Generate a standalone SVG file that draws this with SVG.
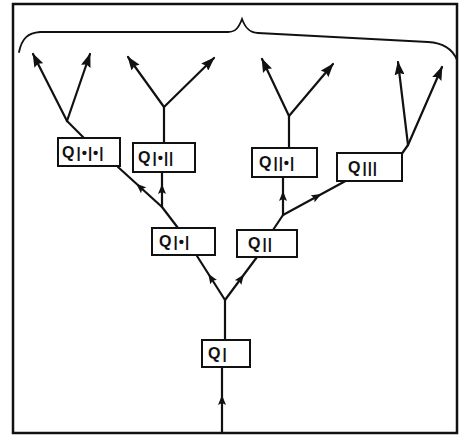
<svg xmlns="http://www.w3.org/2000/svg" width="459" height="439" viewBox="0 0 459 439">
<defs>
<marker id="endArrow" viewBox="0 0 14 10" refX="13" refY="5" markerWidth="14" markerHeight="10" markerUnits="userSpaceOnUse" orient="auto">
<path d="M0,0 L14,5 L0,10 L2,5 Z" fill="#111"/>
</marker>
<marker id="midArrow" viewBox="0 0 10 8" refX="5" refY="4" markerWidth="10" markerHeight="8" markerUnits="userSpaceOnUse" orient="auto">
<path d="M0,0 L10,4 L0,8 L2,4 Z" fill="#111"/>
</marker>
<style>
.ln{fill:none;stroke:#111;stroke-width:2.2;stroke-linecap:round}
.end{marker-end:url(#endArrow)}
.mid{marker-mid:url(#midArrow)}
.box{fill:#fff;stroke:#111;stroke-width:2}
.lbl{font-family:"Liberation Sans",Arial,sans-serif;fill:#111;font-size:15px;font-weight:bold;letter-spacing:1px}
.q{font-size:16px;letter-spacing:2px}
</style>
</defs>
<rect x="0" y="0" width="459" height="439" fill="#fff"/>
<rect x="13" y="4" width="444" height="429" fill="none" stroke="#111" stroke-width="2.5"/>
<path fill="none" stroke="#111" stroke-width="1.8" stroke-linecap="round" d="M19,52 C22,38 28,33 40,32 L228,32 C236,32 239,27 242,19 C245,27 249,33 258,33 L428,42 C445,43 453,50 457,60"/>
<g id="connectors">
<path class="ln end" d="M67,121 L33,54"/>
<path class="ln end" d="M67,121 L90,54"/>
<path class="ln" d="M84,138 L67,121"/>
<path class="ln end" d="M164,107 L128,57"/>
<path class="ln end" d="M164,107 L214,58"/>
<path class="ln" d="M164,143 L164,107"/>
<path class="ln end" d="M289,116 L262,59"/>
<path class="ln end" d="M289,116 L333,64"/>
<path class="ln" d="M289,148 L289,116"/>
<path class="ln end" d="M408,145 L398,62"/>
<path class="ln end" d="M408,145 L442,67"/>
<path class="ln" d="M401,155 L408,145"/>
<path class="ln mid" d="M162,207 L140,187 L118,167"/>
<path class="ln mid" d="M162,207 L162,189 L162,172"/>
<path class="ln" d="M178,228 L162,207"/>
<path class="ln mid" d="M283,215 L283,196 L283,177"/>
<path class="ln mid" d="M283,215 L317,196.5 L351,178"/>
<path class="ln" d="M273,230 L283,215"/>
<path class="ln mid" d="M225,300 L211,278 L197,256"/>
<path class="ln mid" d="M225,300 L241,278.5 L257,257"/>
<path class="ln" d="M225,340 L225,300"/>
<path class="ln mid" d="M222,433 L222,400 L222,367"/>
</g>
<g id="node-q1a1a1">
<rect class="box" x="58" y="138" width="62" height="28"/>
<text class="lbl" x="62" y="158"><tspan class="q">Q</tspan>|•|•|</text>
</g>
<g id="node-q1a11">
<rect class="box" x="133" y="143" width="62" height="29"/>
<text class="lbl" x="138" y="163"><tspan class="q">Q</tspan>|•||</text>
</g>
<g id="node-q11a1">
<rect class="box" x="252" y="148" width="65" height="29"/>
<text class="lbl" x="259" y="168"><tspan class="q">Q</tspan>||•|</text>
</g>
<g id="node-q111">
<rect class="box" x="337" y="153" width="65" height="28"/>
<text class="lbl" x="348" y="173"><tspan class="q">Q</tspan>|||</text>
</g>
<g id="node-q1a1">
<rect class="box" x="152" y="228" width="63" height="27"/>
<text class="lbl" x="159" y="247"><tspan class="q">Q</tspan>|•|</text>
</g>
<g id="node-q11">
<rect class="box" x="237" y="230" width="60" height="27"/>
<text class="lbl" x="248" y="249"><tspan class="q">Q</tspan>||</text>
</g>
<g id="node-q1">
<rect class="box" x="202" y="340" width="48" height="27"/>
<text class="lbl" x="208" y="359"><tspan class="q">Q</tspan>|</text>
</g>
</svg>
